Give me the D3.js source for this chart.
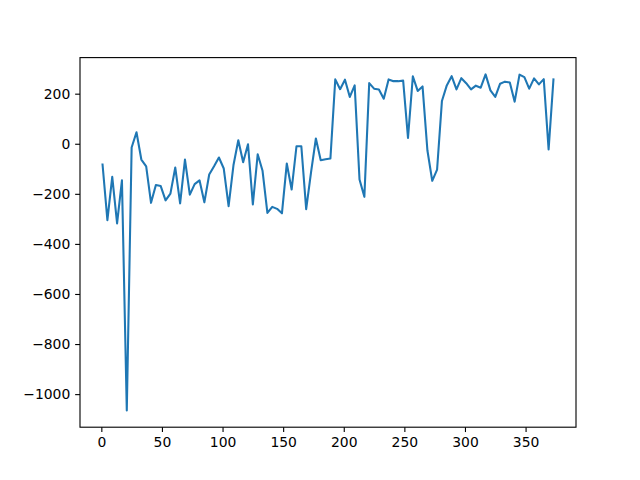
<!DOCTYPE html>
<html>
<head>
<meta charset="utf-8">
<script src="https://cdn.jsdelivr.net/npm/d3@7"></script>
<style>
html,body{margin:0;padding:0;background:#fff;}
svg{display:block;}
</style>
</head>
<body>
<svg id="chart" width="640" height="480"></svg>
<script>
const xStart = 1;
const xStep = 4;
const values = [
  -83, -305, -132, -318, -146, -1065, -15, 46, -63, -90,
  -236, -165, -169, -226, -199, -95, -238, -63, -203, -161,
  -146, -234, -123, -90, -55, -99, -249, -86, 14, -74,
  -2, -242, -42, -108, -276, -252, -260, -278, -79, -183,
  -10, -10, -261, -114, 21, -66, -62, -59, 257, 218,
  256, 187, 233, -143, -212, 242, 220, 217, 180, 257,
  250, 250, 252, 23, 269, 211, 229, -26, -148, -103,
  171, 233, 270, 217, 262, 242, 217, 232, 224, 277,
  213, 187, 240, 248, 245, 168, 276, 266, 220, 261,
  237, 258, -23, 257
];
const xs = values.map((v, i) => xStart + i * xStep);
const xTicks = [0, 50, 100, 150, 200, 250, 300, 350];
const yTicks = [-1000, -800, -600, -400, -200, 0, 200];

const svg = d3.select("#chart");
const L = 80, R = 576, T = 57.6, B = 427.2;
const xmin = d3.min(xs), xmax = d3.max(xs);
const ymin = d3.min(values), ymax = d3.max(values);
const xm = (xmax - xmin) * 0.05, ym = (ymax - ymin) * 0.05;
const x = d3.scaleLinear().domain([xmin - xm, xmax + xm]).range([L, R]);
const y = d3.scaleLinear().domain([ymin - ym, ymax + ym]).range([B, T]);

const fmt = d => (d < 0 ? "\u2212" + Math.abs(d) : String(d));

const line = d3.line().x((d, i) => x(xs[i])).y(d => y(d));
svg.append("path")
  .datum(values)
  .attr("d", line)
  .attr("fill", "none")
  .attr("stroke", "#1f77b4")
  .attr("stroke-width", 2.08)
  .attr("stroke-linejoin", "round")
  .attr("stroke-linecap", "square");

const xAxis = d3.axisBottom(x).tickValues(xTicks).tickFormat(fmt).tickSize(4.86).tickPadding(4.86);
const yAxis = d3.axisLeft(y).tickValues(yTicks).tickFormat(fmt).tickSize(4.86).tickPadding(4.86);

const gx = svg.append("g").attr("transform", `translate(0,${B})`).call(xAxis);
const gy = svg.append("g").attr("transform", `translate(${L},0)`).call(yAxis);
[gx, gy].forEach(g => {
  g.select(".domain").remove();
  g.selectAll(".tick line").attr("stroke", "#000").attr("stroke-width", 1.11);
  g.selectAll(".tick text").attr("fill", "#000")
    .style("font-family", "'DejaVu Sans', sans-serif").style("font-size", "13.9px");
});

svg.append("rect")
  .attr("x", L).attr("y", T).attr("width", R - L).attr("height", B - T)
  .attr("fill", "none").attr("stroke", "#000").attr("stroke-width", 1.11);
</script>
</body>
</html>
